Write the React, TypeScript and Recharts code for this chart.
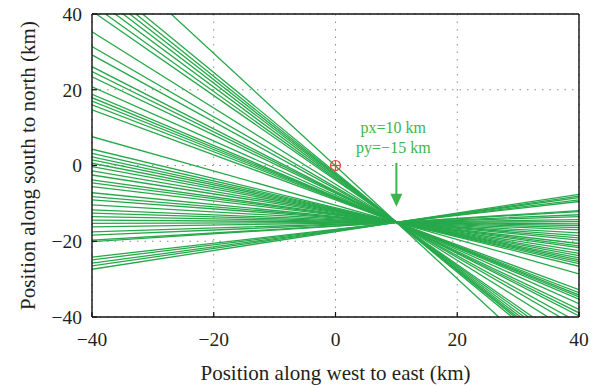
import {
  LineChart, Line, XAxis, YAxis, CartesianGrid, ReferenceLine, ReferenceDot,
} from "recharts";

// estimated source position (intersection point of all bearing lines)
const PX = 10;
const PY = -15;

// lines entering through the top edge (y = 40): x at entry, x where they leave the bottom
const topEntryX = [-39.3, -37.8, -36.2, -34.9, -33.8, -32.8, -31.7, -27.0];
const topExitBottomX = [32.4, 31.7, 31.0, 30.4, 29.9, 29.5, 29.0, 26.8];

// lines entering through the left edge (x = -40) and leaving at the bottom
const leftEntryA = [35.3, 31.4, 29.2];
const leftExitBottomX = [34.9, 36.9, 38.3];

// lines entering through the left edge and leaving through the right edge (x = 40)
const leftEntryB = [
  26.1, 24.8, 23.4, 20.8, 18.8, 17.9, 17.0, 16.0, 14.7, 7.6, 4.3, 3.2, 2.3, 1.5,
  0.6, -0.3, -1.4, -2.5, -3.8, -4.6, -5.6, -7.2, -8.2, -9.1, -10.4, -11.7, -12.6,
  -13.5, -14.4, -15.3, -16.2, -17.5, -18.4, -19.7, -20.1, -24.2, -24.9, -25.8,
  -26.5, -27.4,
];
const rightExitY = [
  -39.7, -38.9, -38.0, -36.5, -35.3, -34.7, -34.2, -33.6, -32.8, -28.6, -26.6,
  -25.9, -25.4, -24.9, -24.4, -23.8, -23.2, -22.5, -21.7, -21.2, -20.6, -19.7,
  -19.1, -18.5, -17.8, -17.0, -16.4, -15.9, -15.4, -14.8, -14.3, -13.5, -13.0,
  -12.2, -11.9, -9.5, -9.1, -8.5, -8.1, -7.6,
];

const axisTicks = [-40, -20, 0, 20, 40];

const GREEN = "#27a94b";
const TEXT_GREEN = "#3cb54a";
const INK = "#231f20";
const FONT = '"Liberation Serif", "DejaVu Serif", serif';

type Pt = { x: number; y: number };

const lines: Pt[][] = [
  ...topEntryX.map((x, i) => [{ x, y: 40 }, { x: PX, y: PY }, { x: topExitBottomX[i], y: -40 }]),
  ...leftEntryA.map((y, i) => [{ x: -40, y }, { x: PX, y: PY }, { x: leftExitBottomX[i], y: -40 }]),
  ...leftEntryB.map((y, i) => [{ x: -40, y }, { x: PX, y: PY }, { x: 40, y: rightExitY[i] }]),
];

const fmt = (v: number) => String(v).replace("-", "\u2212");
const axisLine = { stroke: "#111", strokeWidth: 1.4 };
const tickLine = { stroke: "#111", strokeWidth: 1.2 };

function Arrow(p: any) {
  const { x1, y1, x2, y2 } = p;
  return (
    <g>
      <line x1={x1} y1={y1} x2={x2} y2={y2 - 10} stroke={TEXT_GREEN} strokeWidth={2} />
      <polygon points={`${x2 - 6},${y2 - 13} ${x2 + 6},${y2 - 13} ${x2},${y2}`} fill={TEXT_GREEN} />
    </g>
  );
}

function Marker(p: any) {
  const { cx, cy } = p;
  return (
    <g stroke="#e8413c" strokeWidth={1.2} fill="none">
      <circle cx={cx} cy={cy} r={5} />
      <line x1={cx - 5} y1={cy} x2={cx + 5} y2={cy} />
      <line x1={cx} y1={cy - 5} x2={cx} y2={cy + 5} />
    </g>
  );
}

export default function App() {
  return (
    <div style={{ position: "absolute", left: 0, top: 0, background: "#fff" }}>
      <LineChart
        width={597}
        height={388}
        margin={{ top: 13, right: 17, left: 0, bottom: 0 }}
        style={{ fontFamily: FONT }}
      >
        <CartesianGrid stroke="#8a8a8a" strokeDasharray="1.5 6" />
        <XAxis
          type="number" dataKey="x" domain={[-40, 40]} ticks={axisTicks} allowDataOverflow
          height={71} tickSize={-5} tickMargin={20} tickFormatter={fmt}
          axisLine={axisLine} tickLine={tickLine}
          tick={{ fontSize: 19.5, fill: INK, fontFamily: FONT }}
          label={{ value: "Position along west to east (km)", position: "insideBottom", offset: 8, fontSize: 21, fill: INK, fontFamily: FONT }}
        />
        <XAxis
          xAxisId="top" orientation="top" type="number" domain={[-40, 40]} ticks={axisTicks}
          allowDataOverflow height={1} tick={false} tickSize={-5}
          axisLine={axisLine} tickLine={tickLine}
        />
        <YAxis
          type="number" domain={[-40, 40]} ticks={axisTicks} allowDataOverflow
          width={92} tickSize={-5} tickMargin={15} tickFormatter={fmt}
          axisLine={axisLine} tickLine={tickLine}
          tick={{ fontSize: 19.5, fill: INK, fontFamily: FONT }}
          label={{ value: "Position along south to north (km)", angle: -90, position: "insideLeft", offset: 28, fontSize: 21, fill: INK, fontFamily: FONT, style: { textAnchor: "middle" } }}
        />
        <YAxis
          yAxisId="right" orientation="right" type="number" domain={[-40, 40]} ticks={axisTicks}
          allowDataOverflow width={1} tick={false} tickSize={-5}
          axisLine={axisLine} tickLine={tickLine}
        />
        {lines.map((d, i) => (
          <Line
            key={i} data={d} dataKey="y" type="linear" stroke={GREEN} strokeWidth={1.3}
            dot={false} activeDot={false} isAnimationActive={false}
          />
        ))}
        <ReferenceDot x={0} y={0} r={5} shape={Marker} />
        <ReferenceLine segment={[{ x: PX, y: 0.7 }, { x: PX, y: -10.9 }]} shape={Arrow} />
        <ReferenceDot
          x={9.5} y={10.2} r={0} fill="none" stroke="none"
          label={{ value: "px=10 km", position: "center", fill: TEXT_GREEN, fontSize: 16, fontFamily: FONT }}
        />
        <ReferenceDot
          x={9.5} y={4.9} r={0} fill="none" stroke="none"
          label={{ value: "py=\u221215 km", position: "center", fill: TEXT_GREEN, fontSize: 16, fontFamily: FONT }}
        />
      </LineChart>
    </div>
  );
}
